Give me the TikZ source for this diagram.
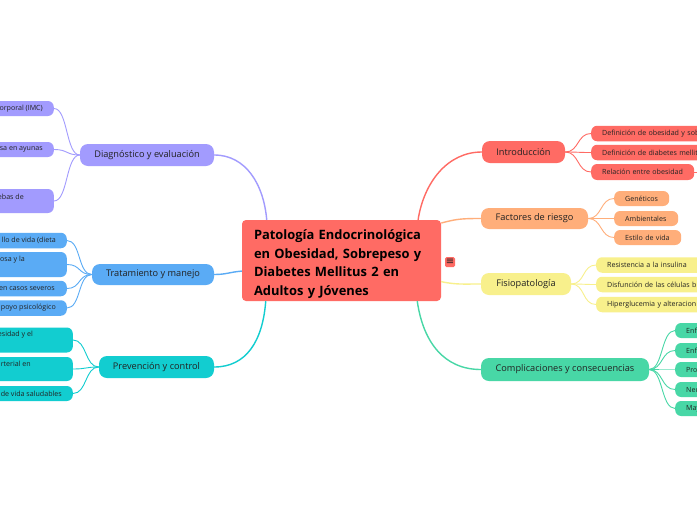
\documentclass[tikz,border=0pt]{standalone}
\usepackage{fontspec}
\setmainfont{Open Sans}
\newfontfamily\dejavu{DejaVu Sans}
\usetikzlibrary{calc}
\definecolor{cRed}{HTML}{FF6B64}
\definecolor{cPur}{HTML}{A29BFE}
\definecolor{cBlu}{HTML}{5AABF5}
\definecolor{cTea}{HTML}{12CDD0}
\definecolor{cOra}{HTML}{FFAE7A}
\definecolor{cYel}{HTML}{F8F08C}
\definecolor{cGre}{HTML}{48D7A6}
\definecolor{cTxt}{HTML}{222222}
\begin{document}
\begin{tikzpicture}[x=1pt,y=-1pt,
  rootbox/.style={fill=cRed, rounded corners=4pt, inner xsep=12pt, inner ysep=0pt, text width=175pt, align=left, minimum height=81pt, font=\fontsize{12.9}{18.7}\selectfont\bfseries, text=black},
  branchbox/.style={rounded corners=8pt, inner sep=0pt, font=\fontsize{9.2}{11}\selectfont, text=cTxt},
  leftsub/.style={rounded corners=6pt, inner sep=0pt, anchor=east, minimum width=150pt},
  subtext/.style={inner sep=0pt, anchor=east, font=\fontsize{7.1}{8.5}\selectfont, text=cTxt},
  rightsub/.style={rounded corners=6pt, inner xsep=11pt, inner ysep=0pt, anchor=west, align=left, font=\fontsize{7.1}{8.5}\selectfont, text=cTxt},
  rootlink/.style={line width=1.4pt},
  sublink/.style={line width=0.9pt, to path={.. controls ($(\tikztostart)+(#1,0)$) and ($(\tikztotarget)+(-#1,0)$) .. (\tikztotarget)}},
]
\useasboundingbox (0,0) rectangle (697,520);
\fill[white] (0,0) rectangle (697,520);
\clip (0,0) rectangle (697,520);

% root
\node[rootbox] (root) at (341.5,260.5) {\rule{0pt}{17pt}Patología Endocrinológica\\en Obesidad, Sobrepeso y\\Diabetes Mellitus 2 en\\Adultos y Jóvenes};
\node[fill=cRed, rounded corners=1.5pt, minimum size=10pt, inner sep=0pt, font=\dejavu\fontsize{10}{10}\selectfont, text=cTxt] (menu) at (450,262) {≡};

% branches
\node[branchbox, fill=cPur, minimum width=134pt, minimum height=22pt] (diag) at (147,155) {Diagnóstico y evaluación};
\node[branchbox, fill=cBlu, minimum width=122pt, minimum height=21pt] (trat) at (153,274.5) {Tratamiento y manejo};
\node[branchbox, fill=cTea, minimum width=115pt, minimum height=22pt] (prev) at (156.5,367) {Prevención y control};
\node[branchbox, fill=cRed, minimum width=83pt, minimum height=22pt] (intro) at (523.5,152) {Introducción};
\node[branchbox, fill=cOra, minimum width=107pt, minimum height=21pt] (fact) at (534.5,218.5) {Factores de riesgo};
\node[branchbox, fill=cYel, minimum width=90pt, minimum height=22pt] (fisio) at (526,284) {Fisiopatología};
\node[branchbox, fill=cGre, minimum width=168pt, minimum height=23pt] (comp) at (565,369.5) {Complicaciones y consecuencias};

% left subs: diagnóstico
\node[leftsub, fill=cPur, minimum height=15pt] (d1) at (54,108.5) {};
\node[leftsub, fill=cPur, minimum height=15pt] (d2) at (54,149.5) {};
\node[leftsub, fill=cPur, minimum height=24pt] (d3) at (54,201) {};
\node[subtext] (d1t) at (43,108.5) {orporal (IMC)};
\node[subtext] (d2t) at (43,149.5) {sa en ayunas};
\node[subtext] (d3t) at (24,197) {ebas de};

% left subs: tratamiento
\node[leftsub, fill=cBlu, minimum height=15.5pt] (t1) at (67,240.5) {};
\node[leftsub, fill=cBlu, minimum height=25pt] (t2) at (67,264.5) {};
\node[leftsub, fill=cBlu, minimum height=15.5pt] (t3) at (67,288.5) {};
\node[leftsub, fill=cBlu, minimum height=15.5pt] (t4) at (67,308) {};
\node[subtext] (t1t) at (56,240.5) {llo de vida (dieta};
\node[subtext] (t2t) at (25,260) {osa y la};
\node[subtext] (t3t) at (55,288.5) {en casos severos};
\node[subtext] (t4t) at (56,308) {poyo psicológico};

% left subs: prevención
\node[leftsub, fill=cTea, minimum height=25pt] (p1) at (73,340) {};
\node[leftsub, fill=cTea, minimum height=24pt] (p2) at (73,369) {};
\node[leftsub, fill=cTea, minimum height=15pt] (p3) at (73,393.5) {};
\node[subtext] (p1t) at (33,335) {esidad y el};
\node[subtext] (p2t) at (31,364) {rterial en};
\node[subtext] (p3t) at (62,393.5) {de vida saludables};

% right subs: introducción
\node[rightsub, fill=cRed, minimum height=15.5pt, text width=150pt] (i1) at (591,133.5) {Definición de obesidad y sob};
\node[rightsub, fill=cRed, minimum height=15.5pt, text width=150pt] (i2) at (591,152.5) {Definición de diabetes mellit};
\node[rightsub, fill=cRed, minimum height=16pt, text width=81pt] (i3) at (591,172) {Relación entre obesidad};
\coordinate (i3out) at (705,172);

% right subs: factores
\node[rightsub, fill=cOra, minimum height=15pt, text width=33pt] (f1) at (614,198.5) {Genéticos};
\node[rightsub, fill=cOra, minimum height=15pt, text width=42pt] (f2) at (614,218.5) {Ambientales};
\node[rightsub, fill=cOra, minimum height=15pt, text width=45pt] (f3) at (614,237.5) {Estilo de vida};

% right subs: fisiopatología
\node[rightsub, fill=cYel, minimum height=15.5pt, text width=150pt] (s1) at (596,265) {Resistencia a la insulina};
\node[rightsub, fill=cYel, minimum height=15.5pt, text width=150pt] (s2) at (596,284.5) {Disfunción de las células b};
\node[rightsub, fill=cYel, minimum height=15.5pt, text width=150pt] (s3) at (596,304.5) {Hiperglucemia y alteracion};

% right subs: complicaciones
\node[rightsub, fill=cGre, minimum height=15pt, text width=150pt] (c1) at (675,330.5) {Enf};
\node[rightsub, fill=cGre, minimum height=15pt, text width=150pt] (c2) at (675,350.5) {Enf};
\node[rightsub, fill=cGre, minimum height=15pt, text width=150pt] (c3) at (675,369.5) {Pro};
\node[rightsub, fill=cGre, minimum height=15pt, text width=150pt] (c4) at (675,389.5) {Neu};
\node[rightsub, fill=cGre, minimum height=15pt, text width=150pt] (c5) at (675,408.5) {May};

% root links
\draw[rootlink, cPur] ($(root.north west)!0.125!(root.north east)$) .. controls +(-3,-35) and +(32,0) .. (diag.east);
\draw[rootlink, cRed] ($(root.north west)!0.884!(root.north east)$) .. controls +(6,-38) and +(-34,0) .. (intro.west);
\draw[rootlink, cOra] ($(root.north east)!0.04!(root.south east)$) .. controls +(15,-4) and +(-20,0) .. (fact.west);
\draw[rootlink, cYel] ($(root.north east)!0.76!(root.south east)$) .. controls +(15,3) and +(-20,0) .. (fisio.west);
\draw[rootlink, cBlu] ($(root.north west)!0.63!(root.south west)$) .. controls +(-12,1) and +(12,0) .. (trat.east);
\draw[rootlink, cTea] ($(root.south west)!0.12!(root.south east)$) .. controls +(-3,40) and +(32,0) .. (prev.east);
\draw[rootlink, cGre] ($(root.south west)!0.88!(root.south east)$) .. controls +(6,42) and +(-36,0) .. (comp.west);

% sub links left
\foreach \c in {d1,d2,d3} \draw[cPur, sublink=-14] (diag.west) to (\c.east);
\foreach \c in {t1,t2,t3,t4} \draw[cBlu, sublink=-14] (trat.west) to (\c.east);
\foreach \c in {p1,p2,p3} \draw[cTea, sublink=-14] (prev.west) to (\c.east);

% sub links right
\foreach \c in {i1,i2,i3} \draw[cRed, sublink=14] (intro.east) to (\c.west);
\draw[cRed, line width=0.9pt] (i3.east) -- (i3out);
\foreach \c in {f1,f2,f3} \draw[cOra, sublink=14] (fact.east) to (\c.west);
\foreach \c in {s1,s2,s3} \draw[cYel, sublink=14] (fisio.east) to (\c.west);
\foreach \c in {c1,c2,c4,c5} \draw[cGre, sublink=14] (comp.east) to (\c.west);
\draw[cGre!55, line width=1.6pt] (comp.east) -- (c3.west);
\draw[cGre, line width=1.6pt] (comp.east) -- ++(10,0);
\end{tikzpicture}
\end{document}
